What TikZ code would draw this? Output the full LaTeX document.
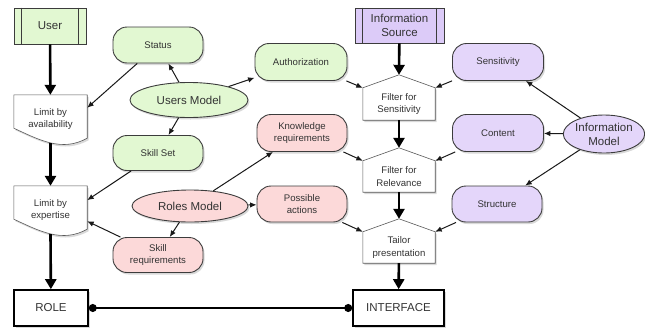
\documentclass[tikz,border=0pt]{standalone}
\usepackage{fontspec}
\setmainfont{Liberation Sans}
\usetikzlibrary{arrows.meta,shapes.geometric,shadows,backgrounds}

\definecolor{usergreen}{HTML}{E2F8D2}
\definecolor{rolepink}{HTML}{FCD9D9}
\definecolor{infopurple}{HTML}{E4D6FA}
\definecolor{srcpurple}{HTML}{DCCBF8}
\definecolor{edgegray}{HTML}{3C3C3C}
\definecolor{txtgray}{HTML}{333333}

\begin{document}
\begin{tikzpicture}[x=1pt, y=-1pt,
    every node/.style={inner sep=0pt, align=center, text=txtgray},
    softshadow/.style={drop shadow={shadow xshift=1.5pt, shadow yshift=-2pt, opacity=0.3}},
    smalltxt/.style={font=\fontsize{9.6}{12.5}\selectfont},
    bigtxt/.style={font=\fontsize{11.5}{14}\selectfont},
    pill/.style={rectangle, rounded corners=14pt, draw=edgegray, line width=0.9pt,
      softshadow, smalltxt, minimum width=90pt, minimum height=36pt},
    model/.style={ellipse, draw=edgegray, line width=0.9pt, softshadow, bigtxt},
    source/.style={rectangle, draw=edgegray, line width=0.8pt, bigtxt,
      minimum height=36pt},
    term/.style={rectangle, draw=black, line width=1.6pt, fill=white, softshadow,
      bigtxt, minimum height=36pt},
    docnode/.style={rectangle, smalltxt, minimum width=73pt, minimum height=48pt},
    housenode/.style={rectangle, smalltxt, minimum width=72pt, minimum height=31pt},
    docline/.style={draw=edgegray!85, line width=0.6pt, fill=white, softshadow},
    thinarrow/.style={draw=black!90, line width=1pt, -{Latex[length=6.5pt,width=5.5pt]}},
    thickarrow/.style={draw=black, line width=2.6pt, -{Triangle[length=10pt,width=11pt]}},
    dotline/.style={draw=black, line width=1.1pt, {Circle[length=8pt]}-{Circle[length=8pt]}}
  ]
  \useasboundingbox (0,0) rectangle (645,327);

  % left column: user side
  \node[source, fill=usergreen, minimum width=72pt] (user) at (50,26) {User};
  \node[docnode] (lav) at (50.5,119) {Limit by\\availability};
  \node[docnode] (lex) at (50.5,210) {Limit by\\expertise};
  \node[term, minimum width=74pt] (role) at (51,308) {ROLE};

  % users model and roles model
  \node[pill, fill=usergreen] (status) at (158,45) {Status};
  \node[model, fill=usergreen, minimum width=118pt, minimum height=35pt] (um) at (189,100) {Users Model};
  \node[pill, fill=usergreen, minimum height=35pt] (skill) at (158,153) {Skill Set};
  \node[model, fill=rolepink, minimum width=116pt, minimum height=32pt] (rm) at (190,206) {Roles Model};
  \node[pill, fill=rolepink, minimum height=35pt] (skreq) at (158,255) {Skill\\requirements};

  % middle column
  \node[pill, fill=usergreen, minimum width=92pt, minimum height=37pt] (auth) at (301,62) {Authorization};
  \node[pill, fill=rolepink, minimum height=37pt] (know) at (302,133) {Knowledge\\requirements};
  \node[pill, fill=rolepink] (poss) at (302,204) {Possible\\actions};

  % information side
  \node[source, fill=srcpurple, minimum width=89pt, minimum height=35pt] (isrc) at (399.5,25.5) {Information\\Source};
  \node[housenode, minimum height=32pt] (fsens) at (399,104) {Filter for\\Sensitivity};
  \node[housenode] (frel) at (399,176.5) {Filter for\\Relevance};
  \node[housenode] (ftail) at (399,247.5) {Tailor\\presentation};
  \node[term, minimum width=91pt] (iface) at (398.5,308) {INTERFACE};

  % information model
  \node[pill, fill=infopurple, minimum width=91pt, minimum height=37pt] (sens) at (498,62) {Sensitivity};
  \node[pill, fill=infopurple, minimum width=91pt, minimum height=37pt] (cont) at (498,133) {Content};
  \node[pill, fill=infopurple] (struct) at (497,204) {Structure};
  \node[model, fill=infopurple, minimum width=75pt, minimum height=38pt] (im) at (604,134) {Information\\Model};

  % outlines of the document and filter shapes
  \begin{scope}[on background layer]
    \foreach \d in {lav,lex}
      \draw[docline] ([yshift=15pt]\d.south west) -- (\d.north west) -- (\d.north east)
        -- ([yshift=5pt]\d.south east)
        .. controls ([xshift=-25pt,yshift=-9pt]\d.south east) and ([xshift=26pt,yshift=3pt]\d.south west)
        .. ([yshift=15pt]\d.south west) -- cycle;
    \foreach \f in {fsens,frel,ftail}
      \draw[docline] (\f.south west) -- (\f.north west) -- ([yshift=13pt]\f.north)
        -- (\f.north east) -- (\f.south east) -- cycle;
  \end{scope}

  % side bars of the source boxes
  \foreach \n in {user,isrc}
    \draw[draw=edgegray, line width=0.8pt]
      ([xshift=8pt]\n.north west) -- ([xshift=8pt]\n.south west)
      ([xshift=-8pt]\n.north east) -- ([xshift=-8pt]\n.south east);

  % main flow
  \draw[thickarrow] (user) -- (lav);
  \draw[thickarrow] (lav.south) -- (lex.north);
  \draw[thickarrow] (lex.south) -- (role);
  \draw[thickarrow] (isrc) -- ([yshift=13pt]fsens.north);
  \draw[thickarrow] (fsens) -- ([yshift=13pt]frel.north);
  \draw[thickarrow] (frel) -- ([yshift=13pt]ftail.north);
  \draw[thickarrow] (ftail) -- (iface);
  \draw[dotline] (role) -- (iface);

  % users model
  \draw[thinarrow] (um) -- (status);
  \draw[thinarrow] (um) -- (skill);
  \draw[thinarrow] (um) -- (auth);
  \draw[thinarrow] (status) -- (lav.17);
  \draw[thinarrow] (skill) -- (lex.15);

  % roles model
  \draw[thinarrow] (rm) -- (know);
  \draw[thinarrow] (rm) -- (poss);
  \draw[thinarrow] (rm) -- (skreq);
  \draw[thinarrow] (skreq) -- (lex.-17);

  % into the filters
  \draw[thinarrow] (auth) -- (fsens.north west);
  \draw[thinarrow] (know) -- (frel.north west);
  \draw[thinarrow] (poss) -- (ftail.north west);
  \draw[thinarrow] (sens) -- (fsens.north east);
  \draw[thinarrow] (cont) -- (frel.north east);
  \draw[thinarrow] (struct) -- (ftail.north east);

  % information model
  \draw[thinarrow] (im) -- (sens);
  \draw[thinarrow] (im) -- (cont);
  \draw[thinarrow] (im) -- (struct);
\end{tikzpicture}
\end{document}
